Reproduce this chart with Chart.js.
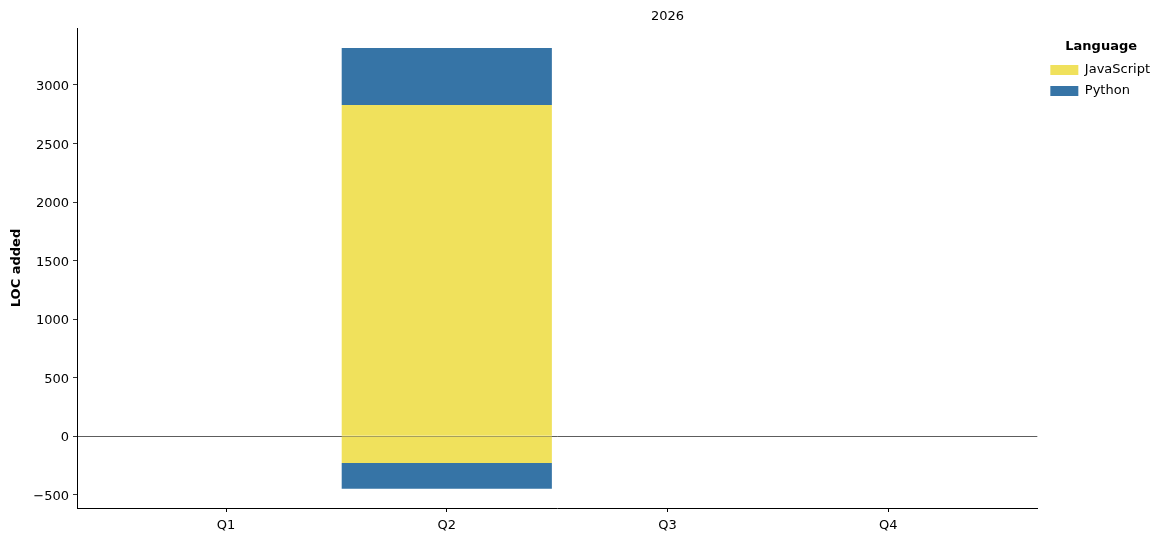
<!DOCTYPE html>
<html>
<head>
<meta charset="utf-8">
<script src="https://cdn.jsdelivr.net/npm/chart.js@4"></script>
<style>
  html, body { margin: 0; padding: 0; background: #fff; }
  #wrap { width: 1173px; height: 542px; }
</style>
</head>
<body>
<div id="wrap"><canvas id="locChart"></canvas></div>
<script>
const quarters = ["Q1", "Q2", "Q3", "Q4"];
const jsAdded = [0, 2829, 0, 0];
const pyAdded = [0, 487, 0, 0];
const jsRemoved = [0, -231, 0, 0];
const pyRemoved = [0, -219, 0, 0];
const yTicks = [-500, 0, 500, 1000, 1500, 2000, 2500, 3000];

const YELLOW = 'rgb(240, 225, 92)';
const BLUE = 'rgb(54, 116, 166)';

Chart.defaults.font.family = 'DejaVu Sans';
Chart.defaults.font.size = 13;
Chart.defaults.color = '#000';

function points(arr) {
  return arr.map((v, i) => ({ x: i, y: v }));
}

// year label sits above the third quarter like in the original figure
const yearTitle = {
  id: 'yearTitle',
  afterDraw(chart) {
    const ctx = chart.ctx;
    const x = chart.scales.x.getPixelForValue(2);
    ctx.save();
    ctx.font = '13px DejaVu Sans';
    ctx.fillStyle = '#000';
    ctx.textAlign = 'center';
    ctx.textBaseline = 'middle';
    ctx.fillText('2026', x, 17);
    ctx.restore();
  }
};

const common = { borderWidth: 0, barPercentage: 0.952, categoryPercentage: 1.0, stack: 'loc' };

const myChart = new Chart(document.getElementById('locChart'), {
  type: 'bar',
  data: {
    datasets: [
      { label: 'JavaScript', data: points(jsAdded), backgroundColor: YELLOW, ...common },
      { label: 'Python', data: points(pyAdded), backgroundColor: BLUE, ...common },
      { label: 'JavaScript (removed)', data: points(jsRemoved), backgroundColor: YELLOW, ...common },
      { label: 'Python (removed)', data: points(pyRemoved), backgroundColor: BLUE, ...common }
    ]
  },
  options: {
    responsive: true,
    maintainAspectRatio: false,
    animation: false,
    layout: { padding: { top: 28, left: 0, right: 13, bottom: 0 } },
    plugins: {
      tooltip: { enabled: false },
      legend: {
        position: 'right',
        align: 'start',
        title: { display: true, text: 'Language', font: { weight: 'bold', size: 13 }, padding: { top: 12, bottom: 0 } },
        labels: {
          boxWidth: 28,
          boxHeight: 10,
          padding: 8,
          filter: item => !item.text.includes('removed')
        }
      }
    },
    scales: {
      x: {
        type: 'linear',
        min: -0.675,
        max: 3.675,
        offset: false,
        stacked: true,
        afterBuildTicks: s => { s.ticks = quarters.map((q, i) => ({ value: i })); },
        afterFit: s => { s.height = 34; },
        ticks: { callback: v => quarters[v] ?? '', padding: 6, maxRotation: 0, autoSkip: false },
        grid: { offset: false, color: 'transparent', tickColor: '#000', tickLength: 4, drawOnChartArea: false },
        border: { display: true, color: '#000', width: 1 }
      },
      y: {
        type: 'linear',
        min: -615,
        max: 3487,
        stacked: true,
        afterBuildTicks: s => { s.ticks = yTicks.map(v => ({ value: v })); },
        afterFit: s => { s.width = 77; },
        ticks: {
          callback: v => v < 0 ? '\u2212' + Math.abs(v) : String(v),
          padding: 4,
          labelOffset: 2
        },
        title: { display: true, text: 'LOC added', font: { weight: 'bold', size: 13 }, padding: { top: 9, bottom: 0 } },
        grid: {
          color: c => c.tick && c.tick.value === 0 ? '#333' : 'transparent',
          lineWidth: 0.8,
          tickColor: '#000',
          tickLength: 4
        },
        border: { display: true, color: '#000', width: 1 }
      },
      // empty right-hand axis, only keeps a small gap before the legend
      gap: {
        type: 'linear',
        position: 'right',
        afterFit: s => { s.width = 5; },
        ticks: { display: false },
        grid: { display: false },
        border: { display: false }
      }
    }
  },
  plugins: [yearTitle]
});
</script>
</body>
</html>
